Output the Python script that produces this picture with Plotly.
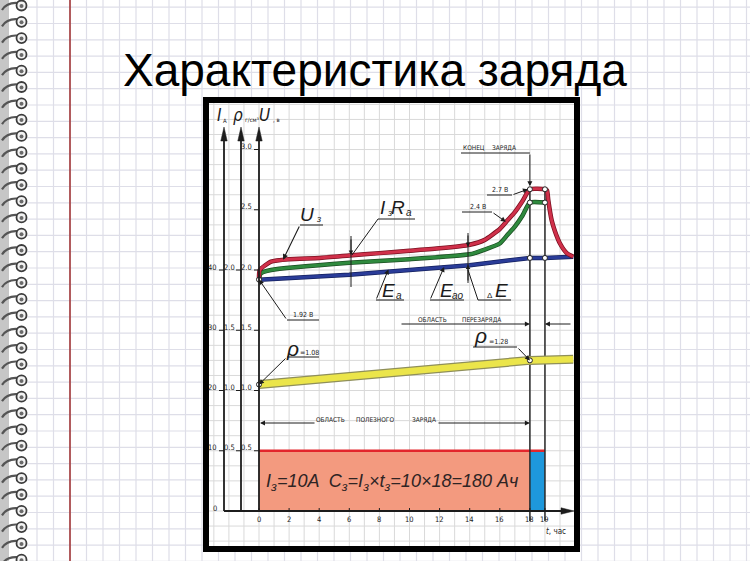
import plotly.graph_objects as go

# ---------------- data (time in hours, voltage in V, density in g/cm3 on the same scale) ----------------
t_ea = [0, 6, 14, 18, 19, 20.88]
ea = [1.92, 1.96, 2.04, 2.10, 2.10, 2.11]

t_eao = [0, 0.1, 0.8, 6, 10, 14, 15, 16, 16.5, 17, 17.5, 18, 19]
eao = [1.92, 1.97, 2.00, 2.06, 2.09, 2.13, 2.17, 2.22, 2.29, 2.36, 2.45, 2.56, 2.56]

t_u = [0, 0.05, 0.8, 2, 4, 6, 8, 10, 12, 14, 15, 16, 16.5, 17, 17.5, 18, 19,
       19.14, 19.22, 19.45, 19.67, 20.0, 20.45, 20.88]
u = [1.92, 2.00, 2.07, 2.09, 2.10, 2.12, 2.14, 2.16, 2.18, 2.21, 2.25, 2.34, 2.41,
     2.48, 2.57, 2.67, 2.67, 2.66, 2.58, 2.41, 2.32, 2.22, 2.14, 2.11]

t_rho = [0, 18, 20.88]
rho = [1.05, 1.25, 1.26]

I_charge = 10          # A
t_end = 18             # h, end of charge
t_over = 19            # h, end of overcharge
I_SCALE = 0.05         # 40 A  <->  2.0 on the common scale

i_ticks = [0, 10, 20, 30, 40]
rho_ticks = [0.5, 1.0, 1.5, 2.0]
u_ticks = [0.5, 1.0, 1.5, 2.0, 2.5, 3.0]
t_ticks = [0, 2, 4, 6, 8, 10, 12, 14, 16, 18, 19]

# ---------------- geometry helpers (pixel -> data) ----------------
W, H = 750, 561
X0PX, PXH = 259.0, 15.05
Y0PX, PXV = 511.0, 120.5


def tx(px):
    return (px - X0PX) / PXH


def vy(py):
    return (Y0PX - py) / PXV


def px_t(t):
    return X0PX + PXH * t


def py_v(v):
    return Y0PX - PXV * v


NARROW = "Liberation Sans Narrow, DejaVu Sans Condensed, Arial Narrow, Liberation Sans, sans-serif"
SANS = "Liberation Sans, Arial, sans-serif"
INK = "#1c1c1c"

shapes = []
annotations = []


def sline(x0, y0, x1, y1, color, width, layer="below"):
    shapes.append(dict(type="line", xref="x", yref="y", x0=tx(x0), y0=vy(y0), x1=tx(x1), y1=vy(y1),
                       line=dict(color=color, width=width), layer=layer))


def srect(x0, y0, x1, y1, fill=None, color=None, width=0, layer="below"):
    d = dict(type="rect", xref="x", yref="y", x0=tx(x0), y0=vy(y0), x1=tx(x1), y1=vy(y1), layer=layer,
             line=dict(color=color if color else "rgba(0,0,0,0)", width=width))
    if fill:
        d["fillcolor"] = fill
    shapes.append(d)


def spath(pts, fill=None, color=INK, width=1, layer="above", closed=True):
    p = "M " + " L ".join(f"{tx(x):.4f},{vy(y):.4f}" for x, y in pts) + (" Z" if closed else "")
    d = dict(type="path", xref="x", yref="y", path=p, layer=layer, line=dict(color=color, width=width))
    if fill:
        d["fillcolor"] = fill
    shapes.append(d)


def txt(s, x, y, size, italic=False, color=INK, family=NARROW, xanchor="center", yanchor="middle"):
    annotations.append(dict(text=f"<i>{s}</i>" if italic else s, x=tx(x), y=vy(y), xref="x", yref="y",
                            showarrow=False, font=dict(size=size, color=color, family=family),
                            xanchor=xanchor, yanchor=yanchor, borderpad=0))


def arr(x0, y0, x1, y1, width=1, head=2, size=1.0):
    annotations.append(dict(x=tx(x1), y=vy(y1), ax=tx(x0), ay=vy(y0), xref="x", yref="y", axref="x",
                            ayref="y", text="", showarrow=True, arrowhead=head, arrowsize=size,
                            arrowwidth=width, arrowcolor=INK, standoff=0, startstandoff=0))


# ---------------- notebook page ----------------
for k in range(46):
    x = 4 + 16.5 * k
    if x > 26:
        sline(x, 0, x, H, "#dedee8", 1.2)
for k in range(35):
    y = 7.2 + 16.3 * k
    sline(26, y, W, y, "#dedee8", 1.2)
sline(70, 0, 70, H, "#9e2b2b", 1.5)
srect(0, 0, 9, H, fill="#c6c6c6")
for k in range(35):
    y = 5 + 16.3 * k
    shapes.append(dict(type="path", xref="x", yref="y", layer="below",
                       path=f"M {tx(2):.4f},{vy(y+5):.4f} Q {tx(7):.4f},{vy(y-3):.4f} {tx(18):.4f},{vy(y-2):.4f}",
                       line=dict(color="#555555", width=2.2)))
    shapes.append(dict(type="circle", xref="x", yref="y", layer="below", x0=tx(16.5), x1=tx(26.5),
                       y0=vy(y - 4.5), y1=vy(y + 5.5), fillcolor="#f2f2f2", line=dict(color="#3c3c3c", width=1.8)))
    shapes.append(dict(type="circle", xref="x", yref="y", layer="below", x0=tx(19.5), x1=tx(23.5),
                       y0=vy(y - 1), y1=vy(y + 3), fillcolor="#6a6a6a", line=dict(color="#6a6a6a", width=0)))

# ---------------- scanned chart frame ----------------
srect(203, 97, 580, 552, fill="white")
for k in range(-3, 22):
    x = px_t(k)
    if 208 < x < 575:
        sline(x, 102, x, 547, "#d9d9d9", 1)
for k in range(-3, 30):
    y = Y0PX - 15.06 * k
    if 102 < y < 547:
        sline(208, y, 575, y, "#d9d9d9", 1)
srect(206, 100, 577, 549, color="black", width=6, layer="above")

# ---------------- axes ----------------
AX_I, AX_R, AX_U = 224, 241, X0PX
for axp in (AX_I, AX_R, AX_U):
    sline(axp, Y0PX, axp, 138, INK, 1.8, layer="above")
    spath([(axp, 127), (axp - 3.2, 141), (axp + 3.2, 141)], fill=INK, width=0.5)
sline(AX_I, Y0PX, 564, Y0PX, INK, 1.8, layer="above")
spath([(574, Y0PX), (561, Y0PX - 3.2), (561, Y0PX + 3.2)], fill=INK, width=0.5)

for val in i_ticks:
    py = py_v(val * I_SCALE)
    txt(str(val), 218, py - 3, 7.5, xanchor="right")
    if val:
        sline(AX_I - 5, py, AX_I, py, INK, 1, layer="above")
for val in rho_ticks:
    py = py_v(val)
    txt(f"{val:.1f}", 236, py - 3, 7.5, xanchor="right")
    sline(AX_R - 5, py, AX_R, py, INK, 1, layer="above")
for val in u_ticks:
    py = py_v(val)
    txt(f"{val:.1f}", 253, py - 3, 7.5, xanchor="right")
    sline(AX_U - 5, py, AX_U, py, INK, 1, layer="above")
for val in t_ticks:
    px = px_t(val)
    txt(str(val), px, 519, 7.5)
    sline(px, Y0PX - 3, px, Y0PX, INK, 1, layer="above")
txt("<i>t</i>, час", 556, 531, 8)

txt("I", 219, 115, 17, italic=True)
txt("А", 225, 120, 6)
txt("ρ", 238, 115, 17, italic=True)
txt("г/см³", 252, 119, 6)
txt("U", 264, 115, 17, italic=True)
txt(", в", 276, 119, 6)

# ---------------- traces ----------------
traces = []
ic = I_charge * I_SCALE
traces.append(go.Scatter(x=[0, t_end, t_end, 0, 0], y=[0, 0, ic, ic, 0], fill="toself", fillcolor="#f39a7f",
                         mode="lines", line=dict(width=0), hoverinfo="skip"))
traces.append(go.Scatter(x=[t_end, t_over, t_over, t_end, t_end], y=[0, 0, ic, ic, 0], fill="toself",
                         fillcolor="#1e98dc", mode="lines", line=dict(width=0), hoverinfo="skip"))
traces.append(go.Scatter(x=[0, t_over], y=[ic, ic], mode="lines", line=dict(color="#e3262c", width=2.5),
                         hoverinfo="skip"))
u_end = u[t_u.index(t_end)]
u_over = u[t_u.index(t_over)]
traces.append(go.Scatter(x=[t_end, t_end], y=[vy(521), u_end], mode="lines", line=dict(color="#2a2a2a", width=1.5),
                         hoverinfo="skip"))
traces.append(go.Scatter(x=[t_over, t_over], y=[vy(521), u_over], mode="lines",
                         line=dict(color="#2a2a2a", width=1.5), hoverinfo="skip"))
# density
traces.append(go.Scatter(x=t_rho, y=rho, mode="lines", line=dict(color="#8f8f5a", width=9), hoverinfo="skip"))
traces.append(go.Scatter(x=t_rho, y=rho, mode="lines", line=dict(color="#ebe54a", width=6.5), hoverinfo="skip"))
# Ea (blue)
traces.append(go.Scatter(x=t_ea, y=ea, mode="lines", line=dict(color="#14205e", width=4.5), hoverinfo="skip"))
traces.append(go.Scatter(x=t_ea, y=ea, mode="lines", line=dict(color="#2a3c98", width=3), hoverinfo="skip"))
# Eao (green)
traces.append(go.Scatter(x=t_eao, y=eao, mode="lines", line=dict(color="#1b4d22", width=4.5, shape="spline",
                                                                 smoothing=0.5), hoverinfo="skip"))
traces.append(go.Scatter(x=t_eao, y=eao, mode="lines", line=dict(color="#2f8a3e", width=3, shape="spline",
                                                                 smoothing=0.5), hoverinfo="skip"))
# U (red)
traces.append(go.Scatter(x=t_u, y=u, mode="lines", line=dict(color="#7a1020", width=4.5, shape="spline",
                                                             smoothing=0.5), hoverinfo="skip"))
traces.append(go.Scatter(x=t_u, y=u, mode="lines", line=dict(color="#d0304a", width=3, shape="spline",
                                                             smoothing=0.5), hoverinfo="skip"))
# node markers
node_t = [0, t_end, t_over, t_end, t_over, t_end, t_over, 0, t_end]
node_v = [ea[0], u_end, u_over, eao[t_eao.index(t_end)], eao[t_eao.index(t_over)],
          ea[t_ea.index(t_end)], ea[t_ea.index(t_over)], rho[0], rho[1]]
traces.append(go.Scatter(x=node_t, y=node_v, mode="markers",
                         marker=dict(size=5, color="white", line=dict(color="#222", width=1)), hoverinfo="skip"))

# ---------------- labels on the scan ----------------
# U3
txt("U", 307, 214, 19, italic=True, family=SANS)
txt("з", 318, 219, 9, italic=True, family=SANS)
sline(300, 225, 323, 225, INK, 1, layer="above")
arr(300, 225, px_t(1.6), py_v(2.085), width=1.1)
# I3Ra
txt("I", 383, 207, 19, italic=True, family=SANS)
txt("з", 389, 213, 9, italic=True, family=SANS)
txt("R", 398, 207, 19, italic=True, family=SANS)
txt("а", 409, 212, 10, italic=True, family=SANS)
sline(378, 219, 415, 219, INK, 1, layer="above")
sline(378, 219, 352, 255, INK, 1, layer="above")
# marker at t=6.2
sline(351, 236, 351, 287, INK, 1, layer="above")
arr(351, 238, 351, py_v(2.125), width=1, size=0.9)
# marker at t=14
sline(468, 233, 468, 283, INK, 1, layer="above")
arr(468, 234, 468, py_v(2.19), width=1, size=0.9)
arr(468, 282, 468, py_v(2.045), width=1, size=0.9)
# Ea
txt("E", 388, 290, 19, italic=True, family=SANS)
txt("a", 399, 295, 10, italic=True, family=SANS)
sline(376, 300, 404, 300, INK, 1, layer="above")
arr(376, 300, px_t(8.6), py_v(2.005), width=1)
# Eao
txt("E", 446, 290, 19, italic=True, family=SANS)
txt("ао", 458, 295, 10, italic=True, family=SANS)
sline(430, 300, 464, 300, INK, 1, layer="above")
arr(430, 300, px_t(12.3), py_v(2.025), width=1)
# dE
txt("Δ", 490, 295, 8, family=SANS)
txt("E", 501, 290, 19, italic=True, family=SANS)
sline(478, 300, 511, 300, INK, 1, layer="above")
sline(478, 300, 468, 270, INK, 1, layer="above")
# 1.92 V
txt("1.92 В", 303, 315, 7)
sline(287, 320, 319, 320, INK, 1, layer="above")
arr(287, 320, px_t(0), py_v(ea[0]), width=1)
# rho = 1.08
txt("ρ", 292, 348, 21, italic=True, family=SANS)
txt("=1.08", 309, 353, 7)
sline(287, 357, 319, 357, INK, 1, layer="above")
arr(287, 357, px_t(0), py_v(rho[0]), width=1)
# rho = 1.28
txt("ρ", 480, 335, 21, italic=True, family=SANS)
txt("=1.28", 498, 342, 7)
sline(473, 347, 517, 347, INK, 1, layer="above")
arr(517, 347, px_t(t_end), py_v(rho[1]), width=1)
# end of charge
txt("КОНЕЦ", 474, 148, 6.5)
txt("ЗАРЯДА", 504, 148, 6.5)
sline(461, 153, px_t(t_end), 153, INK, 1, layer="above")
arr(px_t(t_end), 153, px_t(t_end), py_v(u_end) - 3, width=1)
# 2.7 V
txt("2.7 В", 500, 190, 7)
sline(487, 195, 512, 195, INK, 1, layer="above")
arr(512, 195, px_t(t_end) - 2, py_v(u_end), width=1)
# 2.4 V
txt("2.4 В", 478, 207, 7)
sline(462, 212, 492, 212, INK, 1, layer="above")
arr(492, 212, px_t(16.4), py_v(2.40), width=1)
# overcharge region
txt("ОБЛАСТЬ", 432, 320, 6.5)
txt("ПЕРЕЗАРЯДА", 481, 320, 6.5)
arr(400, 324, px_t(t_end), 324, width=1)
arr(572, 324, px_t(t_over), 324, width=1)
# useful charge region
txt("ОБЛАСТЬ", 330, 420, 6.5)
txt("ПОЛЕЗНОГО", 375, 420, 6.5)
txt("ЗАРЯДА", 424, 420, 6.5)
arr(316, 423, px_t(0) + 1, 423, width=1)
arr(437, 423, px_t(t_end), 423, width=1)
# capacity formula
txt("I<sub>з</sub>=10A  C<sub>з</sub>=I<sub>з</sub>×t<sub>з</sub>=10×18=180 Ач", 392, 482, 18,
    italic=True, color="#2e2424", family=SANS)

# ---------------- title ----------------
annotations.append(dict(text="Характеристика заряда", x=375 / W, y=1 - 70 / H, xref="paper", yref="paper",
                        showarrow=False, font=dict(size=46, color="black", family=SANS),
                        xanchor="center", yanchor="middle"))

fig = go.Figure(traces)
fig.update_layout(
    width=W, height=H, margin=dict(l=0, r=0, t=0, b=0),
    paper_bgcolor="white", plot_bgcolor="white", showlegend=False,
    xaxis=dict(range=[tx(0), tx(W)], visible=False, fixedrange=True),
    yaxis=dict(range=[vy(H), vy(0)], visible=False, fixedrange=True),
    shapes=shapes, annotations=annotations,
)
fig.write_html("out.html", config={"displayModeBar": False},
               post_script="document.body.style.margin='0';document.body.style.overflow='hidden';")
